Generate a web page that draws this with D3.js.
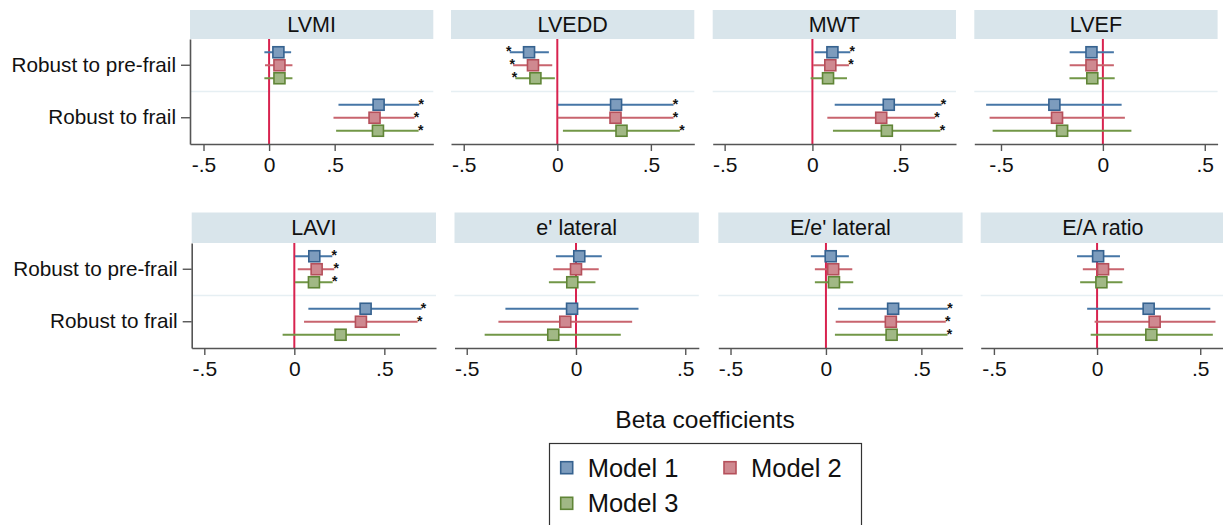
<!DOCTYPE html>
<html>
<head>
<meta charset="utf-8">
<script src="https://cdn.jsdelivr.net/npm/d3@7"></script>
<style>
  body { margin: 0; background: #fff; }
  text { font-family: "Liberation Sans", Arial, Helvetica, sans-serif; fill: #111; }
</style>
</head>
<body>
<script>
// Panels, categories and models
var panels = ["LVMI", "LVEDD", "MWT", "LVEF", "LAVI", "e' lateral", "E/e' lateral", "E/A ratio"];
var categories = ["Robust to pre-frail", "Robust to frail"];
var models = ["Model 1", "Model 2", "Model 3"];
var tickValues = [-0.5, 0, 0.5];
var tickLabels = ["-.5", "0", ".5"];

// x range shown in each panel (Stata draws each panel on its own scale)
var xRanges = [
  [-0.603, 1.252], [-0.568, 0.732], [-0.568, 0.818], [-0.631, 0.563],
  [-0.57, 0.787], [-0.556, 0.562], [-0.564, 0.716], [-0.564, 0.62]
];

// order per panel: pre-frail M1, M2, M3, frail M1, M2, M3
var beta = [
  [0.071, 0.079, 0.079, 0.835, 0.804, 0.830],
  [-0.151, -0.130, -0.117, 0.314, 0.311, 0.343],
  [0.114, 0.102, 0.089, 0.435, 0.392, 0.424],
  [-0.056, -0.056, -0.052, -0.238, -0.225, -0.200],
  [0.111, 0.124, 0.109, 0.396, 0.370, 0.257],
  [0.015, 0.000, -0.017, -0.018, -0.049, -0.104],
  [0.025, 0.038, 0.042, 0.352, 0.340, 0.344],
  [0.005, 0.029, 0.021, 0.250, 0.279, 0.263]
];
var ciLow = [
  [-0.036, -0.031, -0.036, 0.529, 0.491, 0.511],
  [-0.254, -0.236, -0.224, 0.003, 0.003, 0.030],
  [0.013, 0.004, -0.010, 0.127, 0.085, 0.117],
  [-0.163, -0.163, -0.164, -0.573, -0.556, -0.541],
  [0.004, 0.019, 0.004, 0.078, 0.054, -0.065],
  [-0.092, -0.104, -0.124, -0.323, -0.355, -0.418],
  [-0.079, -0.058, -0.058, 0.064, 0.051, 0.047],
  [-0.097, -0.069, -0.082, -0.048, -0.012, -0.031]
];
var ciHigh = [
  [0.168, 0.178, 0.178, 1.145, 1.109, 1.140],
  [-0.045, -0.027, -0.013, 0.621, 0.621, 0.655],
  [0.216, 0.208, 0.197, 0.736, 0.699, 0.729],
  [0.054, 0.054, 0.058, 0.092, 0.108, 0.140],
  [0.211, 0.222, 0.213, 0.707, 0.685, 0.587],
  [0.118, 0.104, 0.089, 0.286, 0.257, 0.205],
  [0.120, 0.138, 0.143, 0.640, 0.628, 0.637],
  [0.111, 0.131, 0.123, 0.549, 0.574, 0.561]
];
var signif = [
  [0, 0, 0, 1, 1, 1],
  [1, 1, 1, 1, 1, 1],
  [1, 1, 0, 1, 1, 1],
  [0, 0, 0, 0, 0, 0],
  [1, 1, 1, 1, 1, 0],
  [0, 0, 0, 0, 0, 0],
  [0, 0, 0, 1, 1, 1],
  [0, 0, 0, 0, 0, 0]
];

var lineColor = ["#4676a6", "#c8646e", "#729747"];
var markStroke = ["#36628f", "#b5505b", "#608537"];
var markFill = ["#7d9cbd", "#cf8990", "#a1b885"];

var svgWidth = 1223;
var svgHeight = 525;

var svg = d3
  .select("body")
  .append("svg")
  .attr("width", svgWidth)
  .attr("height", svgHeight);

// layout of the 2 x 4 grid
var colLefts = [
  [190, 451, 712.7, 974.3],
  [191.7, 454.5, 718.3, 980.7],
];
var panelWidths = [243.3, 244.3];
var headerTops = [10, 212.5];
var plotTops = [39, 243];
var plotHeight = 105;

var yBand = d3.scaleBand().domain(categories).range([0, plotHeight]);
var yModel = d3.scalePoint().domain(models).range([-13, 13]);

panels.forEach(function (name, i) {
  var row = Math.floor(i / 4);
  var col = i % 4;
  var left = colLefts[row][col];
  var w = panelWidths[row];

  // header strip
  var header = svg.append("g").attr("transform", `translate(${left}, ${headerTops[row]})`);
  var hh = plotTops[row] - headerTops[row];
  header.append("rect")
    .attr("width", w)
    .attr("height", hh)
    .attr("fill", "#d9e5eb");
  header.append("text")
    .attr("x", w / 2)
    .attr("y", hh / 2 + 7.5)
    .attr("text-anchor", "middle")
    .style("font-size", "21.5px")
    .text(name);

  var g = svg.append("g").attr("transform", `translate(${left}, ${plotTops[row]})`);

  var x = d3.scaleLinear().domain(xRanges[i]).range([0, w]);

  // separator between the two groups
  g.append("line")
    .attr("x1", 0)
    .attr("x2", w)
    .attr("y1", yBand.bandwidth())
    .attr("y2", yBand.bandwidth())
    .attr("stroke", "#e6eff3")
    .attr("stroke-width", 1.5);

  // zero reference line
  g.append("line")
    .attr("x1", x(0))
    .attr("x2", x(0))
    .attr("y1", 0)
    .attr("y2", plotHeight)
    .attr("stroke", "#d8234f")
    .attr("stroke-width", 2);

  // x axis
  var xAxis = g.append("g")
    .attr("transform", `translate(0, ${plotHeight})`)
    .call(d3.axisBottom(x)
      .tickValues(tickValues)
      .tickFormat(function (d, k) { return tickLabels[k]; })
      .tickSize(7)
      .tickSizeOuter(0)
      .tickPadding(6));
  xAxis.select(".domain").attr("stroke", "#555").attr("stroke-width", 1.6);
  xAxis.selectAll(".tick line").attr("stroke", "#555").attr("stroke-width", 1.4);
  xAxis.selectAll(".tick text")
    .style("font-size", "21px")
    .style("font-family", "'Liberation Sans', Arial, sans-serif")
    .attr("fill", "#111");

  // y axis only on first column
  if (col === 0) {
    var yAxis = g.append("g")
      .call(d3.axisLeft(yBand).tickSize(9).tickSizeOuter(0).tickPadding(5));
    yAxis.select(".domain").attr("stroke", "#555").attr("stroke-width", 1.6);
    yAxis.selectAll(".tick line").attr("stroke", "#555").attr("stroke-width", 1.4);
    yAxis.selectAll(".tick text")
      .style("font-size", "20.7px")
      .style("font-family", "'Liberation Sans', Arial, sans-serif")
      .attr("fill", "#111");
  }

  // estimates
  var rows = [];
  categories.forEach(function (cat, c) {
    models.forEach(function (m, k) {
      var idx = c * 3 + k;
      rows.push({
        cat: cat,
        model: m,
        k: k,
        b: beta[i][idx],
        lo: ciLow[i][idx],
        hi: ciHigh[i][idx],
        sig: signif[i][idx],
      });
    });
  });

  var yPos = function (d) {
    return yBand(d.cat) + yBand.bandwidth() / 2 + yModel(d.model);
  };

  g.selectAll(".ci")
    .data(rows)
    .enter()
    .append("line")
    .attr("class", "ci")
    .attr("x1", (d) => x(d.lo))
    .attr("x2", (d) => x(d.hi))
    .attr("y1", yPos)
    .attr("y2", yPos)
    .attr("stroke", (d) => lineColor[d.k])
    .attr("stroke-width", 2);

  g.selectAll(".mark")
    .data(rows)
    .enter()
    .append("rect")
    .attr("class", "mark")
    .attr("x", (d) => x(d.b) - 5.5)
    .attr("y", (d) => yPos(d) - 5.5)
    .attr("width", 11)
    .attr("height", 11)
    .attr("fill", (d) => markFill[d.k])
    .attr("stroke", (d) => markStroke[d.k])
    .attr("stroke-width", 1.6);

  g.selectAll(".star")
    .data(rows.filter((d) => d.sig))
    .enter()
    .append("text")
    .attr("class", "star")
    .attr("x", (d) => (d.b < 0 ? x(d.lo) - 1 : x(d.hi) + 2))
    .attr("y", (d) => yPos(d) + 4)
    .attr("text-anchor", "middle")
    .style("font-size", "14px")
    .style("font-weight", "bold")
    .text("*");
});

// x axis title
svg.append("text")
  .attr("x", 705)
  .attr("y", 428)
  .attr("text-anchor", "middle")
  .style("font-size", "24.5px")
  .text("Beta coefficients");

// legend
var legend = svg.append("g");
legend.append("rect")
  .attr("x", 549.5)
  .attr("y", 443.5)
  .attr("width", 312)
  .attr("height", 100)
  .attr("fill", "none")
  .attr("stroke", "#333")
  .attr("stroke-width", 1.2);

var legendPos = [[566.7, 467.7], [730, 467.7], [566.7, 503.3]];
models.forEach(function (m, k) {
  var p = legendPos[k];
  legend.append("rect")
    .attr("x", p[0] - 6)
    .attr("y", p[1] - 6)
    .attr("width", 12)
    .attr("height", 12)
    .attr("fill", markFill[k])
    .attr("stroke", markStroke[k])
    .attr("stroke-width", 1.6);
  legend.append("text")
    .attr("x", p[0] + 21)
    .attr("y", p[1] + 9)
    .style("font-size", "25.5px")
    .text(m);
});
</script>
</body>
</html>
